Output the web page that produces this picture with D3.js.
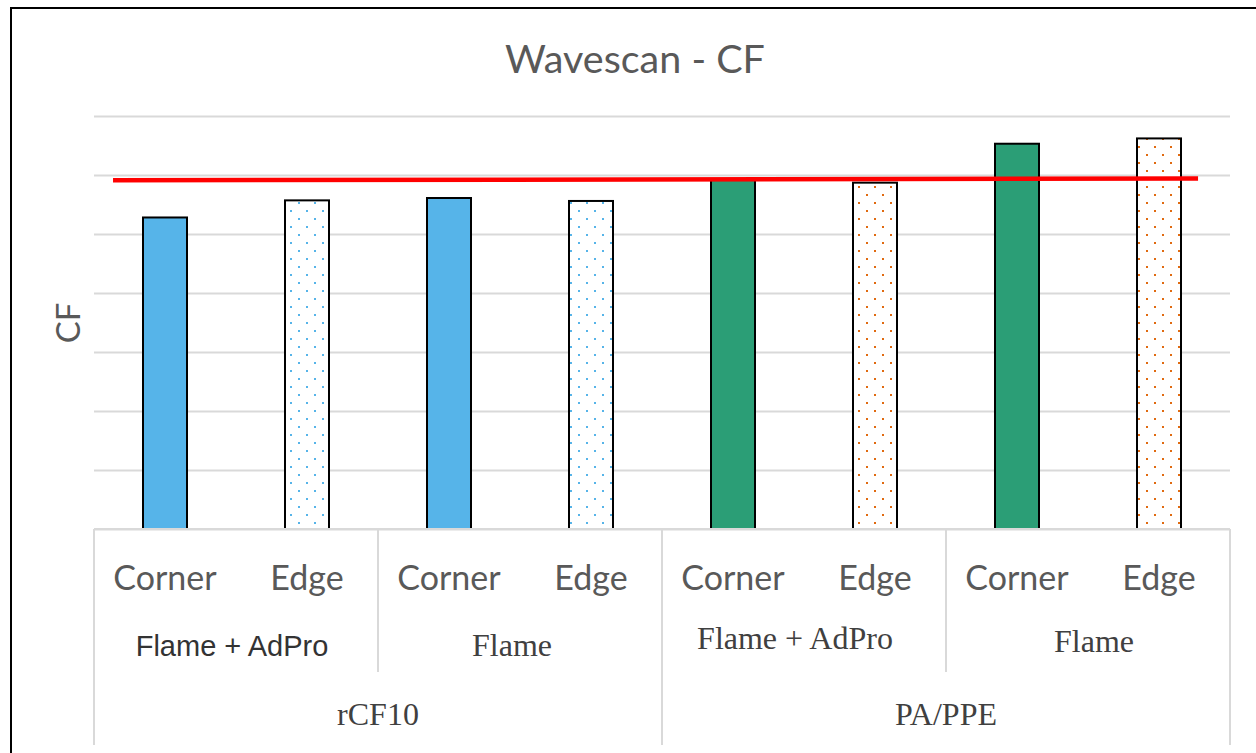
<!DOCTYPE html>
<html>
<head>
<meta charset="utf-8">
<script src="https://cdn.jsdelivr.net/npm/d3@7"></script>
<style>
  body { margin: 0; background: #fff; }
  svg { display: block; }
</style>
</head>
<body>
<svg id="chart" width="1256" height="753"></svg>
<script>
// categories, innermost first
const positions = ["Corner", "Edge", "Corner", "Edge", "Corner", "Edge", "Corner", "Edge"];
const treatments = ["Flame + AdPro", "Flame", "Flame + AdPro", "Flame"];
const materials = ["rCF10", "PA/PPE"];
// CF values per bar (axis has no labels, units = gridline steps)
const cfValues = [5.28, 5.57, 5.61, 5.56, 5.93, 5.87, 6.53, 6.62];
const barStyle = ["solid", "dots", "solid", "dots", "solid", "dots", "solid", "dots"];
const barColor = ["#56b4e9", "#56b4e9", "#56b4e9", "#56b4e9", "#2b9e76", "#e06a10", "#2b9e76", "#e06a10"];
// reference line (position in category slots, value)
const refSlots = [0.134, 7.775];
const refValues = [5.91, 5.94];
const yTicks = [0, 1, 2, 3, 4, 5, 6, 7];

const svg = d3.select("#chart");
const plotLeft = 94, plotRight = 1230, plotTop = 116, base = 529;
const sansFont = "Lato, 'Open Sans', sans-serif";
const serifFont = "'Liberation Serif', 'Times New Roman', serif";

// outer border
svg.append("rect")
  .attr("x", 11).attr("y", 8)
  .attr("width", 1300).attr("height", 800)
  .attr("fill", "none").attr("stroke", "#000").attr("stroke-width", 2);

// title
svg.append("text")
  .attr("x", 635).attr("y", 73)
  .attr("text-anchor", "middle")
  .style("font-family", sansFont)
  .style("font-size", "39.5px")
  .attr("fill", "#595959")
  .text("Wavescan - CF");

var x = d3.scaleBand()
  .domain(d3.range(positions.length))
  .range([plotLeft, plotRight])
  .padding(0);
var xc = d3.scaleLinear().domain([0, positions.length]).range([plotLeft, plotRight]);
var y = d3.scaleLinear().domain([0, 7]).range([base, plotTop]);

// gridlines
svg.append("g")
  .attr("transform", "translate(" + plotLeft + ",0)")
  .call(d3.axisLeft(y).tickValues(yTicks).tickSize(-(plotRight - plotLeft)).tickFormat(""))
  .call(g => g.select(".domain").remove())
  .call(g => g.selectAll("line").attr("stroke", "#d9d9d9").attr("stroke-width", 2));

// y axis title
svg.append("text")
  .attr("transform", "translate(80,323) rotate(-90)")
  .attr("text-anchor", "middle")
  .style("font-family", sansFont)
  .style("font-size", "33px")
  .attr("fill", "#595959")
  .text("CF");

// dot patterns
const defs = svg.append("defs");
function dotPattern(id, color) {
  const p = defs.append("pattern")
    .attr("id", id).attr("patternUnits", "userSpaceOnUse")
    .attr("width", 16).attr("height", 16);
  p.append("rect").attr("width", 16).attr("height", 16).attr("fill", "#fff");
  p.append("rect").attr("x", 2).attr("y", 2).attr("width", 2).attr("height", 2).attr("fill", color);
  p.append("rect").attr("x", 10).attr("y", 10).attr("width", 2).attr("height", 2).attr("fill", color);
}
dotPattern("dotsBlue", "#56b4e9");
dotPattern("dotsOrange", "#e06a10");

const barW = 44;
svg.selectAll(".bar")
  .data(cfValues)
  .enter().append("rect")
  .attr("class", "bar")
  .attr("x", (d, i) => x(i) + x.bandwidth() / 2 - barW / 2)
  .attr("width", barW)
  .attr("y", d => y(d))
  .attr("height", d => base - y(d))
  .attr("fill", (d, i) => barStyle[i] === "solid" ? barColor[i]
        : (barColor[i] === "#56b4e9" ? "url(#dotsBlue)" : "url(#dotsOrange)"))
  .attr("stroke", "#000")
  .attr("stroke-width", 2);

// reference line
const refData = refSlots.map((s, i) => [s, refValues[i]]);
svg.append("path")
  .datum(refData)
  .attr("d", d3.line().x(d => xc(d[0])).y(d => y(d[1])))
  .attr("stroke", "#ff0000")
  .attr("stroke-width", 4.5)
  .attr("fill", "none");

// category table lines
const tbl = svg.append("g").attr("stroke", "#d9d9d9").attr("stroke-width", 2);
tbl.append("line").attr("x1", plotLeft).attr("x2", plotRight).attr("y1", base).attr("y2", base);
const span = positions.length / materials.length;
d3.range(materials.length + 1).forEach(i => {
  const xx = xc(i * span);
  tbl.append("line").attr("x1", xx).attr("x2", xx).attr("y1", base).attr("y2", 745);
});
d3.range(treatments.length).forEach(i => {
  if (i % 2 === 1) {
    const xx = xc(i * 2);
    tbl.append("line").attr("x1", xx).attr("x2", xx).attr("y1", base).attr("y2", 672);
  }
});

// position labels
svg.selectAll(".pos")
  .data(positions)
  .enter().append("text")
  .attr("class", "pos")
  .attr("x", (d, i) => x(i) + x.bandwidth() / 2)
  .attr("y", 590)
  .attr("text-anchor", "middle")
  .style("font-family", sansFont)
  .style("font-size", "34px")
  .attr("fill", "#595959")
  .text(d => d);

// treatment labels (the pasted-in labels sit a little off-centre, as in the original)
const treatY = [656, 656, 649, 652];
const treatDx = [-4, -8, -9, 6];
svg.selectAll(".treat")
  .data(treatments)
  .enter().append("text")
  .attr("class", "treat")
  .attr("x", (d, i) => xc(i * 2 + 1) + treatDx[i])
  .attr("y", (d, i) => treatY[i])
  .attr("text-anchor", "middle")
  .style("font-family", (d, i) => i === 0 ? "'Liberation Sans', Arial, sans-serif" : serifFont)
  .style("font-size", (d, i) => i === 0 ? "29px" : "32px")
  .attr("fill", (d, i) => i === 0 ? "#333" : "#404040")
  .text(d => d);

// material labels
svg.selectAll(".mat")
  .data(materials)
  .enter().append("text")
  .attr("class", "mat")
  .attr("x", (d, i) => xc(i * span + span / 2))
  .attr("y", 725)
  .attr("text-anchor", "middle")
  .style("font-family", serifFont)
  .style("font-size", "32px")
  .attr("fill", "#404040")
  .text(d => d);
</script>
</body>
</html>
